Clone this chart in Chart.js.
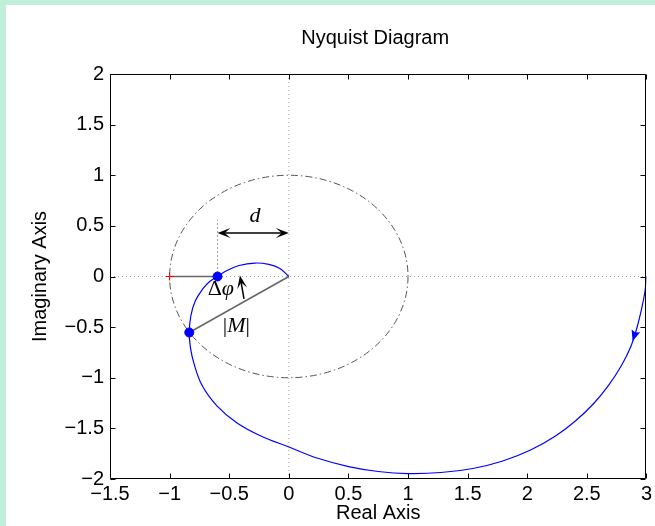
<!DOCTYPE html>
<html>
<head>
<meta charset="utf-8">
<script src="https://cdn.jsdelivr.net/npm/chart.js@4.4.1/dist/chart.umd.min.js"></script>
<style>
  html, body { margin: 0; padding: 0; background: #c0eed8; }
  canvas { display: block; }
</style>
</head>
<body>
<canvas id="nyquistChart" width="655" height="526"></canvas>
<script>
// Nyquist curve, from w=0 (real axis at 3) spiralling into the origin
const curveRe = [3.0, 2.988, 2.963, 2.922, 2.871, 2.788, 2.679, 2.554, 2.404, 2.237, 2.028, 1.795, 1.544, 1.277,
                 1.0, 0.751, 0.501, 0.25, 0.0, -0.234, -0.434, -0.605, -0.728, -0.8, -0.828, -0.835, -0.822,
                 -0.785, -0.722, -0.664, -0.598, -0.518, -0.417, -0.284, -0.167, -0.075, 0.0];
const curveIm = [0.0, -0.143, -0.301, -0.499, -0.686, -0.884, -1.081, -1.259, -1.427, -1.575, -1.714, -1.822, -1.896, -1.936,
                 -1.946, -1.926, -1.877, -1.798, -1.684, -1.575, -1.447, -1.275, -1.075, -0.84, -0.677, -0.553, -0.39,
                 -0.242, -0.123, -0.049, 0.0, 0.059, 0.109, 0.133, 0.119, 0.079, 0.0];
const curveArrowIndex = 3;

const unitRadius = 1;
const criticalPoint = [-1, 0];
const crossingPoint = [-0.598, 0];
const marginPoint = [-0.835, -0.553];
const dArrowY = 0.43;
const dGuideTop = 0.56;
const phaseArrowFrom = [-0.376, -0.22];
const phaseArrowTo = [-0.41, 0.01];
const dLabelAt = [-0.284, 0.6];
const phaseLabelAt = [-0.57, -0.13];
const magLabelAt = [-0.44, -0.49];

const xRange = [-1.5, 3];
const yRange = [-2, 2];
const tickStep = 0.5;
const chartTitle = 'Nyquist Diagram';

const SANS = '"Liberation Sans", Arial, sans-serif';
const SERIF = '"Liberation Serif", "DejaVu Serif", serif';

const fmt = v => String(Math.round(v * 10) / 10).replace('-', '\u2212');
const pts = (xs, ys) => xs.map((x, i) => ({ x: x, y: ys[i] }));

function head(c, x, y, ang, len, wid, notch, color) {
    c.save();
    c.translate(x, y);
    c.rotate(ang);
    c.beginPath();
    c.moveTo(0, 0);
    c.lineTo(-len, -wid / 2);
    c.lineTo(-len * notch, 0);
    c.lineTo(-len, wid / 2);
    c.closePath();
    c.fillStyle = color;
    c.fill();
    c.restore();
}

function richText(c, parts, cx, cy) {
    let w = 0;
    parts.forEach(p => { c.font = p[1]; w += c.measureText(p[0]).width; });
    let x = cx - w / 2;
    c.textBaseline = 'middle';
    c.textAlign = 'left';
    parts.forEach(p => { c.font = p[1]; c.fillText(p[0], x, cy); x += c.measureText(p[0]).width; });
}

const decor = {
    id: 'decor',
    beforeDraw(chart) {
        const c = chart.ctx, a = chart.chartArea;
        c.save();
        c.fillStyle = '#c0eed8';
        c.fillRect(0, 0, chart.width, chart.height);
        c.fillStyle = '#ffffff';
        c.fillRect(6, 5, chart.width - 6, chart.height - 5);
        c.fillStyle = '#000';
        c.font = '20px ' + SANS;
        c.textAlign = 'center';
        c.textBaseline = 'middle';
        c.fillText(chartTitle, (a.left + a.right) / 2 - 3, 38);
        c.restore();
    },
    beforeDatasetsDraw(chart) {
        const c = chart.ctx, xs = chart.scales.x, ys = chart.scales.y, a = chart.chartArea;
        const cx = xs.getPixelForValue(0), cy = ys.getPixelForValue(0);
        const rx = xs.getPixelForValue(unitRadius) - cx, ry = cy - ys.getPixelForValue(unitRadius);
        c.save();
        c.beginPath();
        c.rect(a.left, a.top, a.right - a.left, a.bottom - a.top);
        c.clip();
        c.beginPath();
        c.ellipse(cx, cy, rx, ry, 0, 0, Math.PI * 2);
        c.setLineDash([7, 3, 1.5, 3]);
        c.strokeStyle = '#555555';
        c.lineWidth = 1;
        c.stroke();
        c.restore();
    },
    afterDatasetsDraw(chart) {
        const c = chart.ctx, xs = chart.scales.x, ys = chart.scales.y, a = chart.chartArea;
        const px = v => xs.getPixelForValue(v), py = v => ys.getPixelForValue(v);
        c.save();

        // arrow on the curve
        const i = curveArrowIndex;
        const bx = px(curveRe[i]), by = py(curveIm[i]);
        const nx = px(curveRe[i + 1]), ny = py(curveIm[i + 1]);
        const ang = Math.atan2(ny - by, nx - bx);
        head(c, bx + 15 * Math.cos(ang), by + 15 * Math.sin(ang), ang, 11, 9, 0.85, '#0000ff');

        // d double arrow
        const dx0 = px(crossingPoint[0]), dx1 = px(0), dy = py(dArrowY);
        c.strokeStyle = '#000';
        c.lineWidth = 1.5;
        c.beginPath();
        c.moveTo(dx0 + 4, dy);
        c.lineTo(dx1 - 4, dy);
        c.stroke();
        head(c, dx0, dy, Math.PI, 13, 10, 0.55, '#000');
        head(c, dx1, dy, 0, 13, 10, 0.55, '#000');

        // phase arrow
        const ax0 = px(phaseArrowFrom[0]), ay0 = py(phaseArrowFrom[1]);
        const ax1 = px(phaseArrowTo[0]), ay1 = py(phaseArrowTo[1]);
        const pa = Math.atan2(ay1 - ay0, ax1 - ax0);
        c.beginPath();
        c.moveTo(ax0, ay0);
        c.lineTo(ax1 - 4 * Math.cos(pa), ay1 - 4 * Math.sin(pa));
        c.stroke();
        head(c, ax1, ay1, pa, 13, 10, 0.55, '#000');

        // math labels
        c.fillStyle = '#000';
        richText(c, [['d', 'italic 22px ' + SERIF]], px(dLabelAt[0]), py(dLabelAt[1]));
        richText(c, [['\u0394', '22px ' + SERIF], ['\u03c6', 'italic 22px ' + SERIF]], px(phaseLabelAt[0]), py(phaseLabelAt[1]));
        richText(c, [['|', '22px ' + SERIF], ['M', 'italic 22px ' + SERIF], ['|', '22px ' + SERIF]], px(magLabelAt[0]), py(magLabelAt[1]));

        // box and inward ticks on all sides
        const L = Math.round(a.left) + 0.5, R = Math.round(a.right) - 0.5;
        const T = Math.round(a.top) + 0.5, B = Math.round(a.bottom) - 0.5;
        c.strokeStyle = '#000';
        c.lineWidth = 1;
        c.beginPath();
        c.rect(L, T, R - L, B - T);
        xs.ticks.forEach(t => {
            const x = Math.round(px(t.value)) + 0.5;
            c.moveTo(x, B); c.lineTo(x, B - 5);
            c.moveTo(x, T); c.lineTo(x, T + 5);
        });
        ys.ticks.forEach(t => {
            const y = Math.round(py(t.value)) + 0.5;
            c.moveTo(L, y); c.lineTo(L + 5, y);
            c.moveTo(R, y); c.lineTo(R - 5, y);
        });
        c.stroke();
        c.restore();
    }
};

new Chart(document.getElementById('nyquistChart').getContext('2d'), {
    type: 'scatter',
    data: {
        datasets: [
            {
                data: pts(curveRe, curveIm),
                showLine: true,
                borderColor: '#0000ff',
                borderWidth: 1.2,
                pointRadius: 0,
                tension: 0.4,
                order: 2
            },
            {
                data: [crossingPoint, marginPoint].map(p => ({ x: p[0], y: p[1] })),
                pointRadius: 4.5,
                backgroundColor: '#0000ff',
                borderColor: '#0000ff',
                order: 0
            },
            {
                data: [{ x: criticalPoint[0], y: criticalPoint[1] }],
                pointStyle: 'cross',
                pointRadius: 4,
                borderColor: '#ff0000',
                borderWidth: 1,
                order: 1
            },
            {
                data: [{ x: criticalPoint[0], y: 0 }, { x: crossingPoint[0], y: 0 }],
                showLine: true,
                borderColor: '#666666',
                borderWidth: 1.5,
                pointRadius: 0,
                order: 3
            },
            {
                data: [{ x: 0, y: 0 }, { x: marginPoint[0], y: marginPoint[1] }],
                showLine: true,
                borderColor: '#666666',
                borderWidth: 1.5,
                pointRadius: 0,
                order: 3
            },
            {
                data: [{ x: crossingPoint[0], y: 0 }, { x: crossingPoint[0], y: dGuideTop }],
                showLine: true,
                borderColor: '#444444',
                borderWidth: 1,
                borderDash: [1, 3],
                pointRadius: 0,
                order: 4
            },
            {
                data: [{ x: 0, y: yRange[0] }, { x: 0, y: yRange[1] }],
                showLine: true,
                borderColor: '#a8a8a8',
                borderWidth: 1,
                borderDash: [1, 3],
                pointRadius: 0,
                order: 5
            },
            {
                data: [{ x: xRange[0], y: 0 }, { x: xRange[1], y: 0 }],
                showLine: true,
                borderColor: '#a8a8a8',
                borderWidth: 1,
                borderDash: [1, 3],
                pointRadius: 0,
                order: 5
            }
        ]
    },
    options: {
        responsive: false,
        animation: false,
        devicePixelRatio: 1,
        layout: { padding: { left: 0, top: 74, right: 6, bottom: 0 } },
        plugins: {
            legend: { display: false },
            tooltip: { enabled: false },
            title: { display: false }
        },
        scales: {
            x: {
                type: 'linear',
                min: xRange[0],
                max: xRange[1],
                grid: { display: false, drawTicks: false },
                border: { display: false },
                ticks: {
                    stepSize: tickStep,
                    padding: 3,
                    color: '#000',
                    maxRotation: 0,
                    autoSkip: false,
                    font: { family: SANS, size: 20 },
                    callback: v => fmt(v)
                },
                title: {
                    display: true,
                    text: 'Real Axis',
                    color: '#000',
                    font: { family: SANS, size: 20 },
                    padding: { top: 0, bottom: 1 }
                },
                afterFit: s => { s.height = 47; }
            },
            y: {
                type: 'linear',
                min: yRange[0],
                max: yRange[1],
                grid: { display: false, drawTicks: false },
                border: { display: false },
                ticks: {
                    stepSize: tickStep,
                    padding: 6,
                    color: '#000',
                    autoSkip: false,
                    font: { family: SANS, size: 20 },
                    callback: v => fmt(v)
                },
                title: {
                    display: true,
                    text: 'Imaginary Axis',
                    color: '#000',
                    font: { family: SANS, size: 20 },
                    padding: { top: 28, bottom: 0 }
                },
                afterFit: s => { s.width = 110; }
            }
        }
    },
    plugins: [decor]
});
</script>
</body>
</html>
